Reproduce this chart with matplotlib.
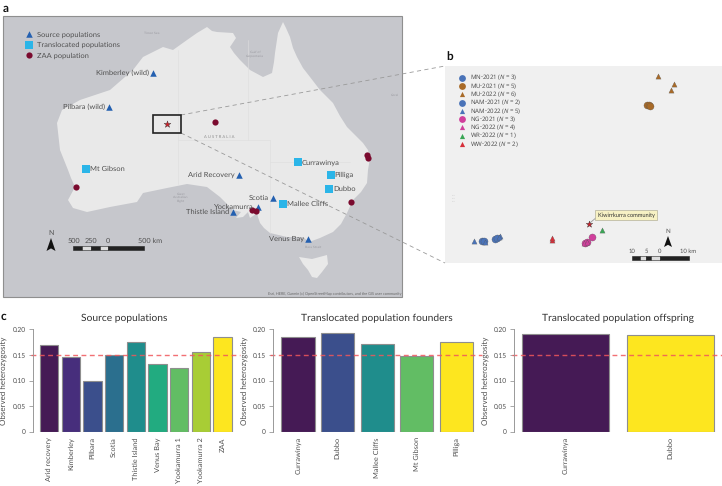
import matplotlib.pyplot as plt
from matplotlib.patches import Polygon, Rectangle
import matplotlib as mpl

mpl.rcParams['font.family'] = ['Lato', 'DejaVu Sans']
mpl.rcParams['mathtext.fontset'] = 'custom'
mpl.rcParams['mathtext.it'] = 'Noto Sans:italic'
mpl.rcParams['mathtext.rm'] = 'Noto Sans'
mpl.rcParams['text.hinting'] = 'no_hinting'

W, H = 722, 486

# map data in image pixels
mainland = [(187, 40), (197, 33), (207, 27), (212, 31), (217, 32), (233, 33), (236, 38), (230, 47), (234, 53),
            (240, 60), (250, 70), (263, 77), (272, 73), (274, 62), (275, 53), (278, 33), (283, 22), (286, 28),
            (290, 37), (293, 48), (297, 57), (303, 68), (310, 77), (320, 90), (333, 103), (340, 116), (347, 127),
            (363, 143), (368, 150), (370, 158), (368, 170), (367, 183), (361, 192), (353, 200), (347, 213),
            (341, 224), (333, 232), (320, 238), (309, 242), (303, 237), (287, 237), (270, 233), (264, 228),
            (260, 223), (258, 217), (257, 213), (253, 216), (250, 218), (248, 212), (243, 217), (236, 218),
            (241, 212), (233, 210), (226, 203), (220, 197), (207, 187), (187, 184), (167, 188), (143, 193),
            (137, 202), (110, 207), (87, 212), (73, 208), (68, 200), (75, 187), (71, 178), (68, 170), (60, 150),
            (57, 123), (62, 110), (80, 100), (110, 90), (133, 70), (143, 57), (163, 47), (173, 50)]
tasmania = [(299, 257), (312, 259), (327, 255), (328, 264), (322, 272), (317, 278), (312, 277), (308, 270),
            (303, 264)]
state_borders = [[(178, 50), (178, 184)], [(248, 40), (248, 140)], [(178, 140), (270, 140)],
                 [(270, 140), (270, 233)], [(270, 162), (350, 162)]]

source_x = [153, 109, 239, 273, 258, 233, 308]
source_y = [73, 107, 175, 198, 207, 212, 239]
source_names = ['Kimberley (wild)', 'Pilbara (wild)', 'Arid Recovery', 'Scotia', 'Yockamurra', 'Thistle Island',
                'Venus Bay']
transloc_x = [85.5, 298, 330.5, 329, 283]
transloc_y = [169, 162.5, 175, 189, 204]
transloc_names = ['Mt Gibson', 'Currawinya', 'Pilliga', 'Dubbo', 'Mallee Cliffs']
zaa_x = [214.5, 76, 350.5, 366.5, 368, 252, 256]
zaa_y = [122.5, 187, 201.5, 155, 158, 210, 211]

# panel b sampling sites
site_groups = ['MN-2021', 'MU-2021', 'MU-2022', 'NAM-2021', 'NAM-2022', 'NG-2021', 'NG-2022', 'WR-2022', 'WW-2022']
site_n = [3, 5, 6, 2, 5, 3, 4, 1, 2]
site_markers = ['o', 'o', '^', 'o', '^', 'o', '^', '^', '^']
site_colors = ['#4a73b8', '#a86a28', '#a86a28', '#4a73b8', '#4a73b8', '#d03f9c', '#d03f9c', '#3aa655', '#d6303a']
site_x = [[482, 483.5], [647, 648.5, 650], [658, 674, 670.5], [495, 497], [474, 485, 500, 499], [592, 587, 585],
          [584, 587], [602.3], [551.7, 551.7]]
site_y = [[241, 241], [105.5, 105, 106], [75.7, 84, 90], [239, 238], [241, 241.5, 236, 237], [237, 242, 242.5],
          [243, 242], [230], [240, 238]]

# panel c
source_pops = ['Arid recovery', 'Kimberley', 'Pilbara', 'Scotia', 'Thistle Island', 'Venus Bay', 'Yookamurra 1',
               'Yookamurra 2', 'ZAA']
source_het = [0.170, 0.145, 0.100, 0.150, 0.176, 0.132, 0.125, 0.155, 0.184]
source_cols = ['#451a55', '#472e7c', '#3b4f8c', '#2b6f8e', '#1f8d8c', '#22ab80', '#62bd64', '#a8cd35', '#fde61f']
founder_pops = ['Currawinya', 'Dubbo', 'Mallee Cliffs', 'Mt Gibson', 'Pilliga']
founder_het = [0.184, 0.192, 0.171, 0.147, 0.175]
founder_cols = ['#451a55', '#3b4f8c', '#1f8d8c', '#62bd64', '#fde61f']
offspring_pops = ['Currawinya', 'Dubbo']
offspring_het = [0.191, 0.188]
offspring_cols = ['#451a55', '#fde61f']
threshold = 0.15

SEA = '#c6c7cc'
LAND = '#e9e9e9'
TXT = '#505050'

fig = plt.figure(figsize=(W / 100, H / 100), dpi=100)

# the overlay axes works in image pixels, so maps and panel b sit on it
ax = fig.add_axes([0, 0, 1, 1])
ax.set_xlim(0, W)
ax.set_ylim(H, 0)
ax.axis('off')


def tri(a, x, y, s=22, color='#2460b0'):
    a.scatter(x, y, s=s, marker='^', color=color, linewidths=0, zorder=5)


# panel a
ax.add_patch(Rectangle((3, 16), 399, 281, fc=SEA, ec='#8f8f8f', lw=0.8, zorder=1))
ax.add_patch(Polygon(mainland, fc=LAND, ec='none', zorder=2))
ax.add_patch(Polygon(tasmania, fc=LAND, ec='none', zorder=2))
for seg in state_borders:
    ax.plot(*zip(*seg), color='#dedede', lw=0.4, zorder=3)

tri(ax, source_x, source_y)
ax.scatter(transloc_x, transloc_y, s=34, marker='s', color='#2bb5e8', linewidths=0, zorder=5)
ax.scatter(zaa_x, zaa_y, s=20, marker='o', color='#7a0a2e', linewidths=0, zorder=6)
ax.add_patch(Rectangle((153, 115), 28, 18, fc='none', ec='#222222', lw=1.2, zorder=6))
ax.scatter([167], [124], s=26, marker='*', color='#d0202a', edgecolors='#333333', linewidths=0.3, zorder=7)

for x, y, name in zip(source_x, source_y, source_names):
    ax.text(x - 4, y - 0.5, name, ha='right', va='center', fontsize=5.4, color=TXT, zorder=8)
for x, y, name in zip(transloc_x, transloc_y, transloc_names):
    ax.text(x + 4, y, name, ha='left', va='center', fontsize=5.4, color=TXT, zorder=8)

tri(ax, [29], [34.5])
ax.scatter([29], [45], s=34, marker='s', color='#2bb5e8', linewidths=0, zorder=5)
ax.scatter([29], [55.5], s=20, marker='o', color='#7a0a2e', linewidths=0, zorder=5)
for y, name in zip([34.5, 45, 55.5], ['Source populations', 'Translocated populations', 'ZAA population']):
    ax.text(37, y, name, va='center', fontsize=5.4, color=TXT, zorder=8)

ax.text(152, 33, 'Timor Sea', fontsize=2.5, color='#9a9aa0', ha='center', va='center', zorder=3)
ax.text(255, 54, 'Gulf of\nCarpentaria', fontsize=2.5, color='#9a9aa0', ha='center', va='center', zorder=3)
ax.text(219, 136.5, 'A U S T R A L I A', fontsize=3, color='#8a8a8a', ha='center', va='center', zorder=3)
ax.text(181, 197, 'Great\nAustralian\nBight', fontsize=2.5, color='#9a9aa0', ha='center', va='center', zorder=3)
ax.text(313, 247, 'Bass Strait', fontsize=2.5, color='#9a9aa0', ha='center', va='center', zorder=3)
ax.text(395, 95, 'Coral', fontsize=2.5, color='#9a9aa0', ha='center', va='center', zorder=3)
ax.text(401, 293.5, 'Esri, HERE, Garmin (c) OpenStreetMap contributors, and the GIS user community', fontsize=2.7,
        color='#666666', ha='right', va='center', zorder=8)


def scalebar(a, top, h, breaks, labels, label_y, size):
    for i in range(len(breaks) - 1):
        col = '#222222' if i % 2 == 0 else '#dddddd'
        a.add_patch(Rectangle((breaks[i], top), breaks[i + 1] - breaks[i], h, fc=col, ec='#222222', lw=0.4, zorder=8))
    for x, s in labels:
        a.text(x, label_y, s, ha='center', va='center', fontsize=size, color=TXT, zorder=8)


def north(a, x, ytop, w, h, size=5):
    a.add_patch(Polygon([(x, ytop), (x + w, ytop + h), (x, ytop + h * 0.8), (x - w, ytop + h)], fc='#111111',
                        ec='none', zorder=8))
    a.text(x, ytop - 5, 'N', ha='center', va='center', fontsize=size, color=TXT, zorder=8)


scalebar(ax, 246, 4, [73, 82, 91, 100, 108, 144],
         [(74, '500'), (91, '250'), (108, '0'), (150, '500 km')], 241, 5.2)
north(ax, 51, 238, 4.5, 13)

# panel b
ax.add_patch(Rectangle((445, 66), 277, 197, fc='#f0f0f0', ec='none', zorder=1))
for y, g, n, m, c in zip(range(len(site_groups)), site_groups, site_n, site_markers, site_colors):
    row = 77.7 + y * 8.3
    ax.scatter([462], [row], s=24 if m == 'o' else 14, marker=m, color=c, linewidths=0, zorder=5)
    ax.text(470, row, '%s ($\\mathit{N}$ = %d)' % (g, n), va='center', fontsize=4.4, family='Noto Sans', color=TXT,
            zorder=8)
for xs, ys, m, c in zip(site_x, site_y, site_markers, site_colors):
    ax.scatter(xs, ys, s=26 if m == 'o' else 14, marker=m, color=c, edgecolors='#555555', linewidths=0.2, zorder=5)

ax.plot([588.6, 597], [224, 217], color='#999999', lw=0.6, zorder=5)
ax.scatter([588.6], [224], s=24, marker='*', color='#d0202a', edgecolors='#333333', linewidths=0.3, zorder=7)
ax.text(626, 215, 'Kiwirrkurra community', fontsize=4.1, color='#333333', ha='center', va='center', zorder=8,
        bbox=dict(boxstyle='square,pad=0.4', fc='#f7f1c4', ec='#b5b19a', lw=0.5))
ax.text(454, 198, '---\n---\n---', fontsize=2.5, color='#aaaaaa', ha='center', va='center', zorder=3)
scalebar(ax, 256, 4, [632, 640, 646, 651, 660, 689],
         [(632, '10'), (646, '5'), (660, '0'), (688, '10 km')], 251, 4.2)
north(ax, 668, 236, 4, 11, size=4.5)

# zoom lines from the box on the map to panel b
ax.plot([181, 445], [115, 66], color='#9a9a9a', lw=0.6, ls=(0, (5, 4)), zorder=4)
ax.plot([181, 445], [133, 263], color='#9a9a9a', lw=0.6, ls=(0, (5, 4)), zorder=4)

ax.text(3, 8, 'a', fontsize=8.5, fontweight='bold', color='#111111', ha='left', va='center')
ax.text(446, 57, 'b', fontsize=8.5, fontweight='bold', color='#111111', ha='left', va='center')
ax.text(1, 316, 'c', fontsize=8.5, fontweight='bold', color='#111111', ha='left', va='center')


# panel c, axes placed from image pixels
def bars(left, right, x0, step, width, names, values, colors, title, ylab_x, title_x):
    top, bottom = 329.3, 431.7
    a = fig.add_axes([left / W, 1 - bottom / H, (right - left) / W, (bottom - top) / H])
    a.patch.set_alpha(0)
    a.bar(range(len(values)), values, width=width / step, color=colors, edgecolor='#8e8e8e', linewidth=0.8)
    a.set_xlim((left - x0) / step, (right - x0) / step)
    a.set_ylim(0, 0.2)
    a.axhline(threshold, xmin=-0.012, xmax=1, color='#f0575c', lw=1, ls=(0, (3.5, 2.5)), clip_on=False, alpha=0.85)
    a.set_xticks(range(len(values)))
    a.set_xticklabels(names, rotation=90, fontsize=5.3, color=TXT)
    a.set_yticks([0, 0.05, 0.1, 0.15, 0.2])
    a.set_yticklabels(['0', '0.05', '0.10', '0.15', '0.20'], fontsize=4.8, color=TXT)
    a.tick_params(axis='y', length=3, width=0.6, color='#999999', pad=2)
    a.tick_params(axis='x', length=0, pad=4)
    for sp in ['top', 'right', 'bottom']:
        a.spines[sp].set_visible(False)
    a.spines['left'].set_color('#999999')
    a.spines['left'].set_linewidth(0.7)
    fig.text(ylab_x / W, 1 - 380.5 / H, 'Observed heterozygosity', rotation=90, ha='center', va='center', fontsize=5.8,
             color=TXT)
    fig.text(title_x / W, 1 - 318.5 / H, title, ha='center', va='center', fontsize=7.4, color='#333333')
    return a


bars(33, 240, 49.2, 21.67, 18.3, source_pops, source_het, source_cols, 'Source populations', 4.5, 124.5)
bars(273, 482, 298, 39.6, 33.3, founder_pops, founder_het, founder_cols, 'Translocated population founders', 245,
     377)
bars(514, 722, 565.8, 104.4, 87, offspring_pops, offspring_het, offspring_cols, 'Translocated population offspring',
     486.5, 618)

fig.savefig('out.png', dpi=100)
